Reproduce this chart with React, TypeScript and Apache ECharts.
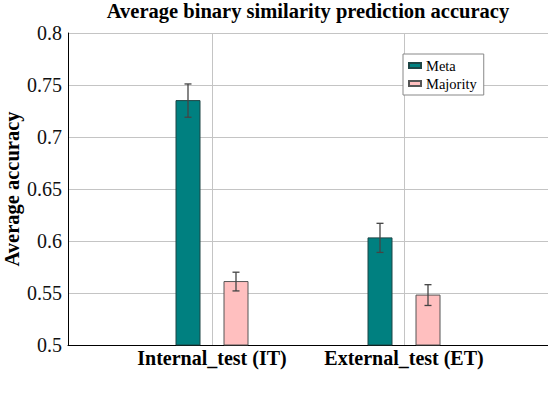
import React, { useEffect, useRef } from "react";
import * as echarts from "echarts";

const categories = ["Internal_test (IT)", "External_test (ET)"];
const categoryPositions = [1, 2];
const metaValues = [0.735, 0.603];
const metaErrors = [0.016, 0.014];
const majorityValues = [0.561, 0.548];
const majorityErrors = [0.009, 0.01];
const yTicks = [0.5, 0.55, 0.6, 0.65, 0.7, 0.75, 0.8];

const FONT = "'Liberation Serif', 'Times New Roman', Times, serif";
const FONT_REG = "'Times New Roman', 'Liberation Serif', 'DejaVu Serif', serif";

function makeRender(offset: number) {
  return (params: any, api: any) => {
    const x = api.value(0) + offset;
    const v = api.value(1);
    const e = api.value(2);
    const w = api.size([0.125, 0])[0];
    const top = api.coord([x, v]);
    const base = api.coord([x, 0.5]);
    const hi = api.coord([x, v + e]);
    const lo = api.coord([x, v - e]);
    const style = api.style();
    return {
      type: "group",
      children: [
        {
          type: "rect",
          shape: { x: top[0] - w / 2, y: top[1], width: w, height: base[1] - top[1] },
          style: { fill: style.fill, stroke: style.stroke, lineWidth: 1 },
        },
        { type: "line", shape: { x1: hi[0], y1: hi[1], x2: lo[0], y2: lo[1] }, style: { stroke: "#444", lineWidth: 1.3 } },
        { type: "line", shape: { x1: hi[0] - 3.5, y1: hi[1], x2: hi[0] + 3.5, y2: hi[1] }, style: { stroke: "#444", lineWidth: 1.3 } },
        { type: "line", shape: { x1: lo[0] - 3.5, y1: lo[1], x2: lo[0] + 3.5, y2: lo[1] }, style: { stroke: "#444", lineWidth: 1.3 } },
      ],
    };
  };
}

export default function App() {
  const ref = useRef<HTMLDivElement>(null);
  useEffect(() => {
    if (!ref.current) return;
    const chart = echarts.init(ref.current, null, { renderer: "svg" });
    chart.setOption({
      animation: false,
      backgroundColor: "#ffffff",
      textStyle: { fontFamily: FONT_REG },
      title: {
        text: "Average binary similarity prediction accuracy",
        left: 308,
        top: 0,
        padding: 0,
        textAlign: "center",
        textStyle: { fontFamily: FONT, fontWeight: "bold", fontSize: 20.5, color: "#000" },
      },
      legend: {
        orient: "vertical",
        left: 403,
        top: 54,
        padding: [4, 7, 4, 5],
        itemGap: 3,
        itemWidth: 12,
        itemHeight: 5,
        borderColor: "#888",
        borderWidth: 1,
        backgroundColor: "#fff",
        icon: "rect",
        textStyle: { fontFamily: FONT_REG, fontWeight: "normal", fontSize: 14.5, lineHeight: 15, color: "#000" },
        data: ["Meta", "Majority"],
      },
      grid: { left: 68, right: 0, top: 33, bottom: 53, containLabel: false, outerBoundsMode: "none" },
      xAxis: {
        type: "value",
        min: 0.25,
        max: 2.75,
        axisLine: { show: true, onZero: false, lineStyle: { color: "#000", width: 1 } },
        axisTick: { show: false, customValues: categoryPositions },
        axisLabel: {
          customValues: categoryPositions,
          formatter: (v: number) => categories[Math.round(v) - 1] ?? "",
          fontFamily: FONT,
          fontWeight: "bold",
          fontSize: 20,
          color: "#000",
          margin: 3,
        },
        splitLine: { show: true, lineStyle: { color: "#c4c4c4", width: 1 } },
      },
      yAxis: {
        type: "value",
        min: 0.5,
        max: 0.8,
        interval: 0.05,
        name: "Average accuracy",
        nameLocation: "middle",
        nameGap: 46,
        nameMoveOverlap: false,
        nameTextStyle: { fontFamily: FONT, fontWeight: "bold", fontSize: 20.5, color: "#000" },
        axisLine: { show: true, onZero: false, lineStyle: { color: "#000", width: 1 } },
        axisTick: { show: false },
        axisLabel: {
          fontFamily: FONT_REG,
          fontWeight: "normal",
          fontSize: 20,
          color: "#111",
          margin: 6,
          formatter: (v: number) => {
            const t = yTicks.find((k) => Math.abs(k - v) < 1e-6);
            return t === undefined ? "" : String(t);
          },
        },
        splitLine: { show: true, lineStyle: { color: "#c4c4c4", width: 1 } },
      },
      series: [
        {
          name: "Meta",
          type: "custom",
          renderItem: makeRender(-0.125),
          itemStyle: { color: "#008080", borderColor: "#1d4545", borderWidth: 1 },
          encode: { x: 0, y: 1 },
          data: categoryPositions.map((p, i) => [p, metaValues[i], metaErrors[i]]),
          z: 3,
        },
        {
          name: "Majority",
          type: "custom",
          renderItem: makeRender(0.125),
          itemStyle: { color: "#ffbfbf", borderColor: "#555555", borderWidth: 1 },
          encode: { x: 0, y: 1 },
          data: categoryPositions.map((p, i) => [p, majorityValues[i], majorityErrors[i]]),
          z: 3,
        },
      ],
    });
    return () => chart.dispose();
  }, []);
  return <div ref={ref} style={{ width: 548, height: 398, position: "absolute", left: 0, top: 0 }} />;
}
